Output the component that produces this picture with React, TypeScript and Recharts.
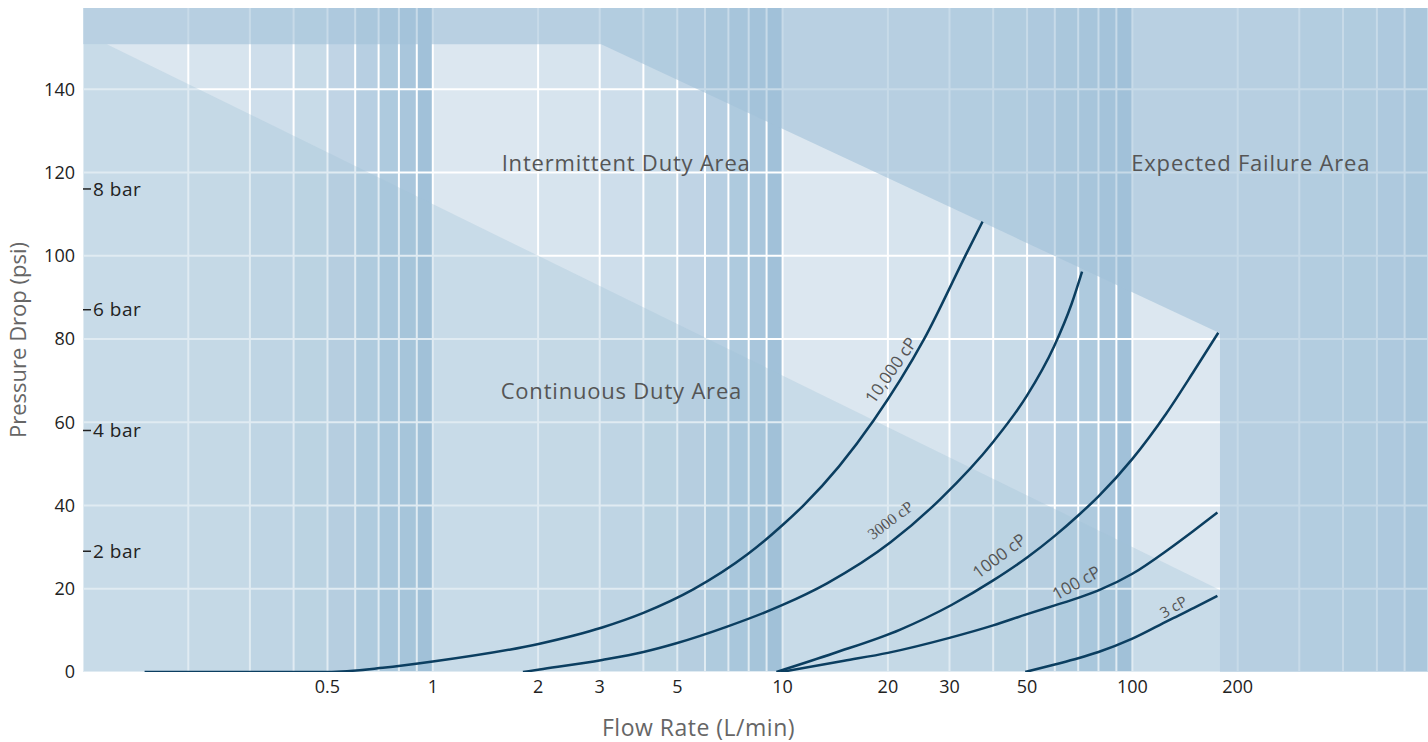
import React from 'react'
import {
  Area,
  ComposedChart,
  Label,
  Line,
  ReferenceArea,
  ReferenceDot,
  ReferenceLine,
  XAxis,
  YAxis,
} from 'recharts'

// Pressure drop vs flow rate for a few viscosities, drawn over the
// continuous / intermittent / failure duty zones. x is log (L/min), y psi.

const FONT = '"Open Sans", sans-serif'
const ZONE_BLUE = '#a1c1d9'
const BASE = '#dce7f0'
const CURVE = '#0b3e60'
const TEXT = '#555'

const flowTicks = [0.5, 1, 2, 3, 5, 10, 20, 30, 50, 100, 200]
const psiTicks = [0, 20, 40, 60, 80, 100, 120, 140]
const barTicks = [2, 4, 6, 8]
const PSI_PER_BAR = 14.5038

const X_MIN = 0.1
const X_MAX = 700
const Y_MAX = 159.5

// minor log grid: each decade split at 1..9, columns shaded darker toward the decade end
const decadeStarts = [0.1, 1, 10, 100]
const decadeSteps = [1, 2, 3, 4, 5, 6, 7, 8, 9]
const bandShade = [0, 0.07, 0.22, 0.33, 0.48, 0.63, 0.78, 0.87, 1]

// duty zones, [low, high] psi at each flow
const continuousZone = [
  { x: 0.1, range: [0, 150.8] },
  { x: 0.117, range: [0, 150.8] },
  { x: 178, range: [0, 19.7] },
]
const failureZone = [
  { x: 0.1, range: [150.8, Y_MAX] },
  { x: 3.03, range: [150.8, Y_MAX] },
  { x: 178, range: [81.4, Y_MAX] },
  { x: 178, range: [0, Y_MAX] },
  { x: 700, range: [0, Y_MAX] },
]

// [flow L/min, psi]
const cp10000 = [
  [0.15, 0], [0.5, 0], [0.72, 1], [1, 2.5], [2.02, 6.8], [3.05, 10.7], [4, 14.2],
  [5.57, 19.9], [7.92, 28.2], [10, 35.3], [11.5, 40.1], [14.5, 49.4], [18.2, 60.4],
  [25.4, 80], [33.4, 100.2], [37.3, 108.2],
]
const cp3000 = [
  [1.81, 0], [2.02, 0.6], [3.05, 2.9], [4, 4.8], [4.97, 6.9], [6.94, 10.9], [10, 16.1],
  [13.4, 21.3], [20.4, 31.2], [28.3, 41.6], [40.2, 55.5], [49.8, 66.2], [59.7, 78.2],
  [67, 88.4], [71.8, 96.2],
]
const cp1000 = [
  [9.6, 0], [14, 4.5], [21.7, 10.2], [30.4, 16.1], [40, 22], [50, 27.5], [60, 32.7],
  [70, 37.6], [80, 42.2], [100, 51.2], [125, 62.1], [150, 72.3], [176, 81.5],
]
const cp100 = [
  [9.9, 0], [15, 2.7], [20, 4.6], [30, 8.2], [40, 11.2], [50, 13.9], [60, 16],
  [70, 17.8], [80, 19.6], [100, 23.6], [127, 29.5], [150, 34], [175, 38.3],
]
const cp3 = [
  [49.4, 0], [60, 1.8], [70, 3.3], [80, 4.8], [100, 8], [127, 12.4], [150, 15.4], [175, 18.3],
]

const curveLabels = [
  { text: '10,000 cP', x: 20.4, y: 72.5, angle: -55, size: 17, font: FONT },
  { text: '3000 cP', x: 20.3, y: 36.5, angle: -37, size: 16, font: '"Liberation Serif", serif' },
  { text: '1000 cP', x: 41.6, y: 27.9, angle: -37, size: 17, font: FONT },
  { text: '100 cP', x: 69.1, y: 21.4, angle: -29, size: 17, font: FONT },
  { text: '3 cP', x: 131, y: 15.6, angle: -30, size: 15, font: FONT },
]

const zoneLabels = [
  { text: 'Intermittent Duty Area', x: 3.57, y: 122.2 },
  { text: 'Continuous Duty Area', x: 3.46, y: 67.5 },
  { text: 'Expected Failure Area', x: 218, y: 122.2 },
]

const toPoints = (pairs: number[][]) => pairs.map(([x, y]) => ({ x, y }))
const curves = [cp10000, cp3000, cp1000, cp100, cp3].map(toPoints)

const trim = (v: number) => Number(v.toPrecision(3))
const gridFlows = decadeStarts.flatMap((d) => decadeSteps.map((s) => trim(d * s))).filter((v) => v <= X_MAX)
const bands = decadeStarts.flatMap((d) =>
  decadeSteps.map((s, i) => ({ x1: trim(d * s), x2: trim(d * (s + 1)), shade: bandShade[i] })),
).filter((b) => b.x2 <= X_MAX)

export default function App() {
  return (
    <div style={{ position: 'absolute', left: 0, top: 0, background: '#fff' }}>
      <ComposedChart width={1428} height={742} margin={{ top: 8, right: 0, bottom: 0, left: 0 }}>
        <XAxis
          dataKey="x"
          type="number"
          scale="log"
          domain={[X_MIN, X_MAX]}
          allowDataOverflow
          ticks={flowTicks}
          tickFormatter={(v) => String(v)}
          axisLine={false}
          tickLine={false}
          tickSize={0}
          tickMargin={8}
          height={70}
          tick={{ fill: '#222', fontSize: 18, fontFamily: FONT }}
          label={{
            value: 'Flow Rate (L/min)',
            position: 'insideBottom',
            offset: 6,
            dx: -57,
            fill: '#666',
            fontSize: 23,
            letterSpacing: 0.5,
            fontFamily: FONT,
          }}
        />
        <YAxis
          type="number"
          domain={[0, Y_MAX]}
          allowDataOverflow
          ticks={psiTicks}
          axisLine={false}
          tickLine={false}
          tickSize={0}
          tickMargin={8}
          width={83}
          tick={{ fill: '#222', fontSize: 18, fontFamily: FONT }}
          label={{
            value: 'Pressure Drop (psi)',
            angle: -90,
            position: 'insideLeft',
            offset: 18,
            fill: '#666',
            fontSize: 22,
            fontFamily: FONT,
            style: { textAnchor: 'middle' },
          }}
        />
        <YAxis
          yAxisId="bar"
          type="number"
          orientation="left"
          mirror
          domain={[0, Y_MAX]}
          allowDataOverflow
          ticks={barTicks.map((b) => b * PSI_PER_BAR)}
          tickFormatter={(v) => `${Math.round(v / PSI_PER_BAR)} bar`}
          axisLine={false}
          tickLine={{ stroke: '#222', strokeWidth: 1.5 }}
          tickSize={8}
          tickMargin={2}
          tick={{ fill: '#222', fontSize: 19, fontFamily: FONT, letterSpacing: 0.5 }}
          zIndex={600}
        />

        <ReferenceArea
          x1={X_MIN}
          x2={X_MAX}
          y1={0}
          y2={Y_MAX}
          fill={BASE}
          fillOpacity={1}
          stroke="none"
          zIndex={1}
        />
        {bands.map((b) => (
          <ReferenceArea
            key={`band-${b.x1}`}
            x1={b.x1}
            x2={b.x2}
            y1={0}
            y2={Y_MAX}
            fill={ZONE_BLUE}
            fillOpacity={b.shade}
            stroke="none"
            zIndex={2}
          />
        ))}
        {gridFlows.map((v) => (
          <ReferenceLine key={`gx-${v}`} x={v} stroke="#fff" strokeWidth={2} zIndex={3} />
        ))}
        {psiTicks.map((v) => (
          <ReferenceLine key={`gy-${v}`} y={v} stroke="#fff" strokeWidth={2} zIndex={3} />
        ))}

        <Area
          data={continuousZone}
          dataKey="range"
          type="linear"
          fill={ZONE_BLUE}
          fillOpacity={0.33}
          stroke="none"
          isAnimationActive={false}
          zIndex={4}
        />
        <Area
          data={failureZone}
          dataKey="range"
          type="linear"
          fill={ZONE_BLUE}
          fillOpacity={0.6}
          stroke="none"
          isAnimationActive={false}
          zIndex={5}
        />

        {curves.map((pts, i) => (
          <Line
            key={`curve-${i}`}
            data={pts}
            dataKey="y"
            type="monotone"
            stroke={CURVE}
            strokeWidth={2.5}
            dot={false}
            activeDot={false}
            isAnimationActive={false}
            zIndex={400}
          />
        ))}

        {curveLabels.map((l) => (
          <ReferenceDot key={l.text} x={l.x} y={l.y} r={0} fill="none" stroke="none" zIndex={700}>
            <Label
              value={l.text}
              position="center"
              angle={l.angle}
              fill={TEXT}
              fontSize={l.size}
              fontFamily={l.font}
            />
          </ReferenceDot>
        ))}
        {zoneLabels.map((l) => (
          <ReferenceDot key={l.text} x={l.x} y={l.y} r={0} fill="none" stroke="none" zIndex={700}>
            <Label
              value={l.text}
              position="center"
              fill={TEXT}
              fontSize={22}
              letterSpacing={0.8}
              fontFamily={FONT}
            />
          </ReferenceDot>
        ))}
      </ComposedChart>
    </div>
  )
}
